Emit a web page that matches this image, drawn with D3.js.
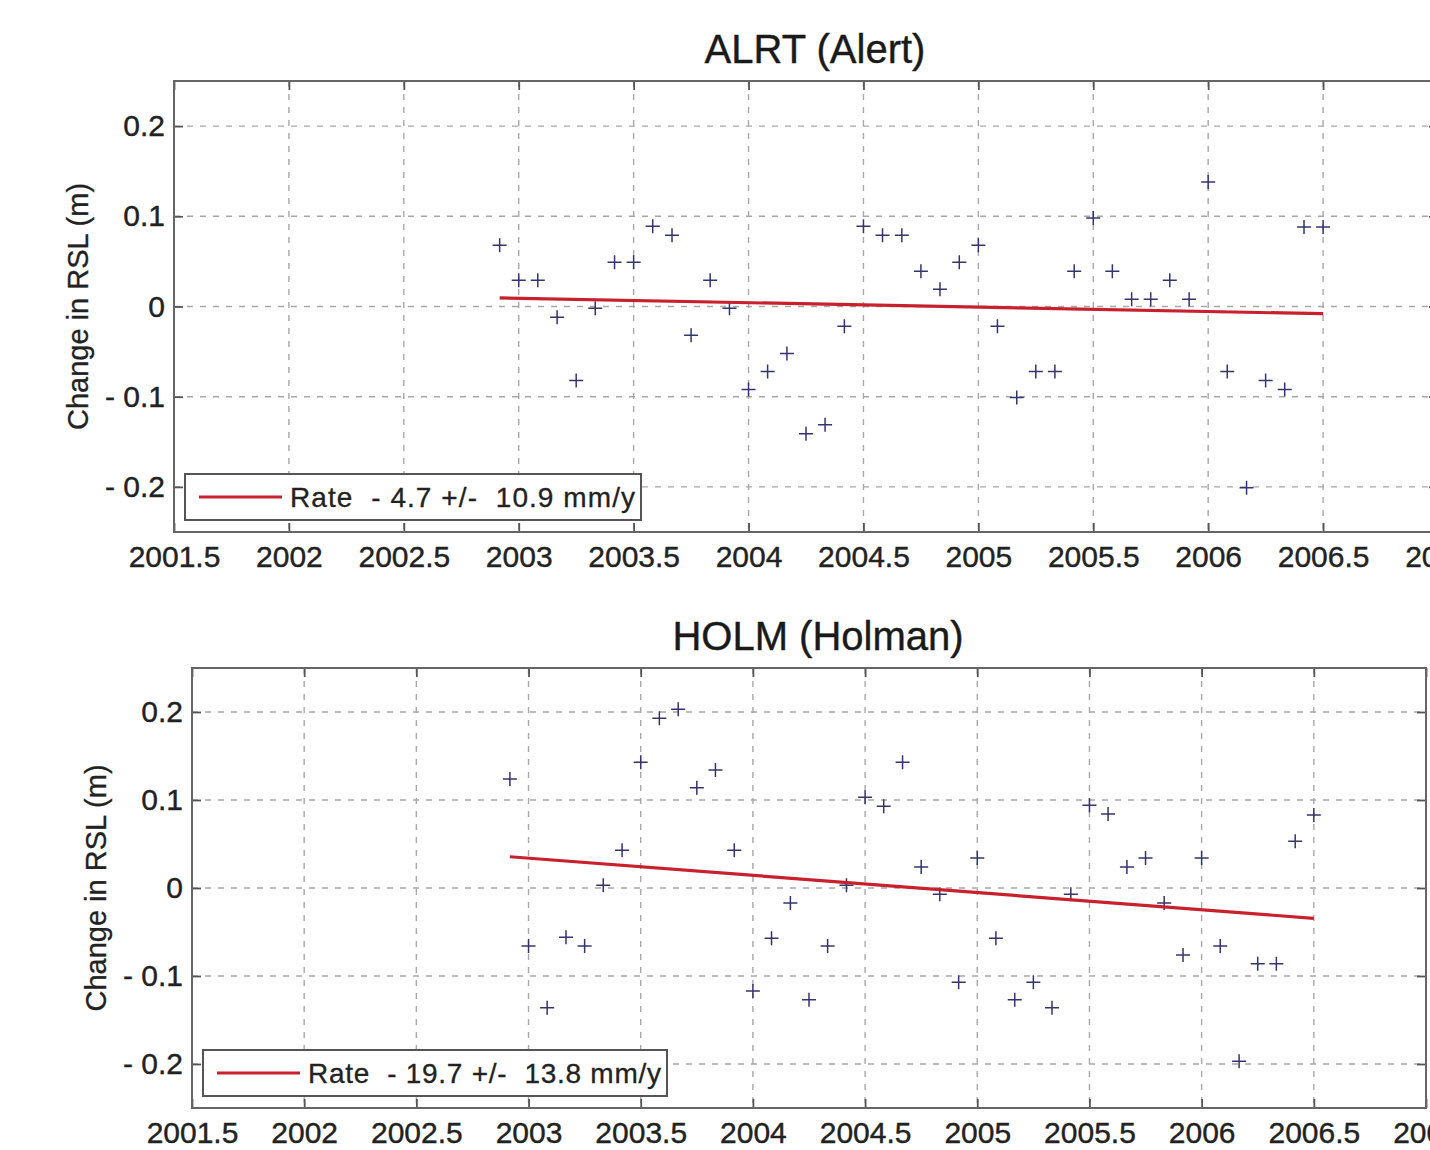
<!DOCTYPE html>
<html>
<head>
<meta charset="utf-8">
<script src="https://cdn.jsdelivr.net/npm/d3@7"></script>
<style>
  body { margin: 0; background: #fff; }
  svg { display: block; font-family: "Liberation Sans", Arial, Helvetica, sans-serif; }
</style>
</head>
<body>
<svg width="1430" height="1150"></svg>
<script>
// monthly sample times (decimal year), shared by both stations
var months = [
  2002.917,
  2003.0, 2003.083, 2003.167, 2003.25, 2003.333, 2003.417, 2003.5, 2003.583, 2003.667, 2003.75, 2003.833, 2003.917,
  2004.0, 2004.083, 2004.167, 2004.25, 2004.333, 2004.417, 2004.5, 2004.583, 2004.667, 2004.75, 2004.833, 2004.917,
  2005.0, 2005.083, 2005.167, 2005.25, 2005.333, 2005.417, 2005.5, 2005.583, 2005.667, 2005.75, 2005.833, 2005.917,
  2006.0, 2006.083, 2006.167, 2006.25, 2006.333, 2006.417, 2006.5
];

// change in RSL (m)
var alertRSL = [
  0.068,
  0.029, 0.029, -0.012, -0.082, -0.002, 0.049, 0.049, 0.089, 0.079, -0.032, 0.029, -0.002,
  -0.092, -0.072, -0.052, -0.141, -0.131, -0.022, 0.089, 0.079, 0.079, 0.039, 0.019, 0.049,
  0.068, -0.022, -0.101, -0.072, -0.072, 0.039, 0.098, 0.039, 0.008, 0.008, 0.029, 0.008,
  0.138, -0.072, -0.201, -0.082, -0.092, 0.088, 0.088
];
var holmanRSL = [
  0.124,
  -0.066, -0.136, -0.056, -0.066, 0.003, 0.043, 0.143, 0.193, 0.203, 0.114, 0.134, 0.043,
  -0.117, -0.057, -0.017, -0.127, -0.066, 0.003, 0.103, 0.093, 0.143, 0.024, -0.007, -0.107,
  0.034, -0.057, -0.127, -0.107, -0.136, -0.007, 0.094, 0.084, 0.024, 0.034, -0.017, -0.076,
  0.034, -0.066, -0.197, -0.086, -0.086, 0.053, 0.083
];

// fitted rate lines (end points)
var trendYears = [2002.917, 2006.5];
var alertTrend = [0.0095, -0.008];
var holmanTrend = [0.0355, -0.0345];

var xTicks = [2001.5, 2002, 2002.5, 2003, 2003.5, 2004, 2004.5, 2005, 2005.5, 2006, 2006.5, 2007];
var yTicks = [-0.2, -0.1, 0, 0.1, 0.2];

var panels = [
  {title: 'ALRT (Alert)', legend: 'Rate  - 4.7 +/-  10.9 mm/y', legendW: 345,
   values: alertRSL, trend: alertTrend,
   left: 174, right: 1438, top: 81, bottom: 532},
  {title: 'HOLM (Holman)', legend: 'Rate  - 19.7 +/-  13.8 mm/y', legendW: 353,
   values: holmanRSL, trend: holmanTrend,
   left: 192, right: 1426, top: 668, bottom: 1108}
];

var svg = d3.select('svg');
svg.append('rect').attr('width', 1430).attr('height', 1150).attr('fill', '#fff');

var yFmt = d => d === 0 ? '0' : (d < 0 ? '- ' + Math.abs(d) : String(d));
var ink = '#222';

panels.forEach(p => {
  // Setup scales ------------------------------------------------------------
  var x = d3.scaleLinear().domain([2001.5, 2007]).range([p.left, p.right]);
  var y = d3.scaleLinear().domain([-0.25, 0.25]).range([p.bottom, p.top]);
  var g = svg.append('g');

  // grid
  g.append('g').selectAll('line').data(xTicks).enter().append('line')
    .attr('x1', d => x(d)).attr('x2', d => x(d))
    .attr('y1', p.top).attr('y2', p.bottom)
    .attr('stroke', '#a8a8a8').attr('stroke-width', 1.4).attr('stroke-dasharray', '6,7');
  g.append('g').selectAll('line').data(yTicks).enter().append('line')
    .attr('x1', p.left).attr('x2', p.right)
    .attr('y1', d => y(d)).attr('y2', d => y(d))
    .attr('stroke', '#a8a8a8').attr('stroke-width', 1.4).attr('stroke-dasharray', '6,7');

  // Axes (ticks point inward) -----------------------------------------------
  var axes = [
    [d3.axisBottom(x).tickValues(xTicks).tickFormat(d => String(d)).tickPadding(14), [0, p.bottom]],
    [d3.axisTop(x).tickValues(xTicks).tickFormat(''), [0, p.top]],
    [d3.axisLeft(y).tickValues(yTicks).tickFormat(yFmt).tickPadding(9), [p.left, 0]],
    [d3.axisRight(y).tickValues(yTicks).tickFormat(''), [p.right, 0]]
  ];
  axes.forEach(a => {
    var ax = g.append('g').attr('transform', 'translate(' + a[1] + ')')
      .call(a[0].tickSizeInner(-9).tickSizeOuter(0));
    ax.select('.domain').remove();
    ax.selectAll('line').attr('stroke', '#555').attr('stroke-width', 1.8);
    ax.selectAll('text').attr('fill', ink).attr('stroke', ink).attr('stroke-width', 0.4)
      .attr('font-size', 30);
  });

  // frame
  g.append('rect').attr('x', p.left).attr('y', p.top)
    .attr('width', p.right - p.left).attr('height', p.bottom - p.top)
    .attr('fill', 'none').attr('stroke', '#666').attr('stroke-width', 2);

  // '+' markers
  g.append('g').selectAll('path').data(p.values).enter().append('path')
    .attr('d', (d, i) => {
      var cx = x(months[i]), cy = y(d);
      return 'M' + (cx - 7) + ',' + cy + 'H' + (cx + 7) + 'M' + cx + ',' + (cy - 7) + 'V' + (cy + 7);
    })
    .attr('stroke', '#34346e').attr('stroke-width', 1.5).attr('fill', 'none');

  // rate line
  g.append('line')
    .attr('x1', x(trendYears[0])).attr('y1', y(p.trend[0]))
    .attr('x2', x(trendYears[1])).attr('y2', y(p.trend[1]))
    .attr('stroke', '#c8202c').attr('stroke-width', 3.2);

  // title + y label
  g.append('text').attr('x', (p.left + p.right) / 2 + 9).attr('y', p.top - 18)
    .attr('text-anchor', 'middle').attr('font-size', 40).attr('fill', '#1a1a1a')
    .attr('stroke', '#1a1a1a').attr('stroke-width', 0.4)
    .text(p.title);
  g.append('text')
    .attr('transform', 'translate(' + (p.left - 86) + ',' + ((p.top + p.bottom) / 2) + ') rotate(-90)')
    .attr('text-anchor', 'middle').attr('font-size', 29).attr('fill', ink)
    .attr('stroke', ink).attr('stroke-width', 0.3)
    .text('Change in RSL (m)');

  // legend
  var bx = p.left + 11, by = p.bottom - 58, bh = 46;
  var bw = 105 + p.legendW + 6;
  g.append('rect').attr('x', bx).attr('y', by).attr('width', bw).attr('height', bh)
    .attr('fill', '#fff').attr('stroke', '#555').attr('stroke-width', 2);
  g.append('line').attr('x1', bx + 14).attr('x2', bx + 97)
    .attr('y1', by + bh / 2).attr('y2', by + bh / 2)
    .attr('stroke', '#c8202c').attr('stroke-width', 3.2);
  g.append('text').attr('x', bx + 105).attr('y', by + bh / 2 + 10)
    .attr('font-size', 28).attr('fill', ink).attr('stroke', ink).attr('stroke-width', 0.3)
    .attr('textLength', p.legendW).attr('lengthAdjust', 'spacing')
    .style('white-space', 'pre')
    .text(p.legend);
});
</script>
</body>
</html>
